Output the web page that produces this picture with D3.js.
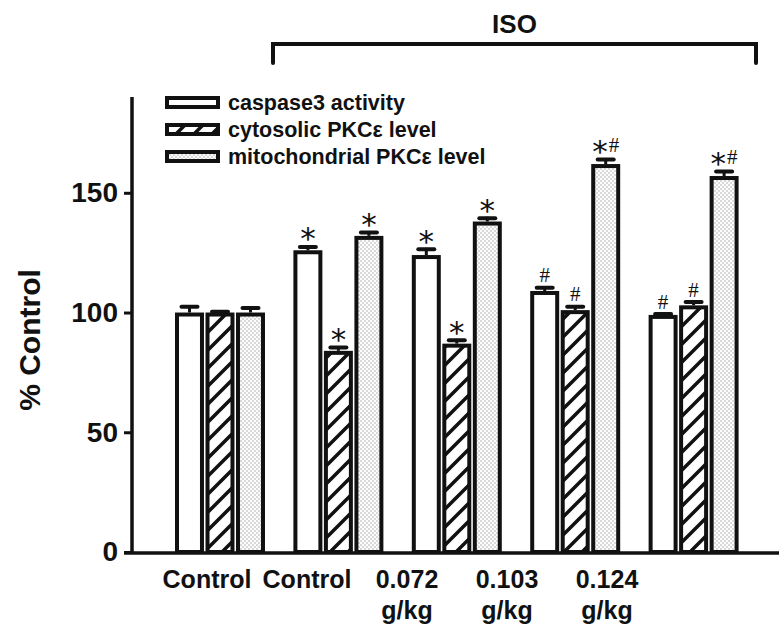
<!DOCTYPE html>
<html>
<head>
<meta charset="utf-8">
<script src="https://cdn.jsdelivr.net/npm/d3@7"></script>
<style>
	body { margin: 0; background: #fff; }
	text { font-family: 'Liberation Sans', Arial, sans-serif; fill: #111; }
</style>
</head>
<body>
<div id="chart"></div>
<script>
	'use strict';

	// data
	var groups = ['Control', 'ISO', '0.072', '0.103', '0.124'];
	var groupLabels = [['Control'], ['Control'], ['0.072', 'g/kg'], ['0.103', 'g/kg'], ['0.124', 'g/kg']];
	var seriesNames = ['caspase3 activity', 'cytosolic PKC\u03b5 level', 'mitochondrial PKC\u03b5 level'];
	var caspaseValues = [100, 126, 124, 109, 99];
	var caspaseErrors = [3, 2, 3, 2, 1];
	var cytosolicValues = [100, 84, 87, 101, 103];
	var cytosolicErrors = [1, 2, 2, 2, 2];
	var mitoValues = [100, 132, 138, 162, 157];
	var mitoErrors = [2.5, 2, 2, 2.5, 2.5];
	var caspaseMarks = ['', '*', '*', '#', '#'];
	var cytosolicMarks = ['', '*', '*', '#', '#'];
	var mitoMarks = ['', '*', '*', '*#', '*#'];
	var yTicks = [0, 50, 100, 150];
	var yMax = 190;

	var width = 779, height = 628;
	var svg = d3.select('#chart').append('svg')
		.attr('width', width)
		.attr('height', height);

	var defs = svg.append('defs');
	var hatch = defs.append('pattern')
		.attr('id', 'hatch')
		.attr('patternUnits', 'userSpaceOnUse')
		.attr('width', 18).attr('height', 18);
	hatch.append('rect').attr('width', 18).attr('height', 18).attr('fill', '#fff');
	hatch.append('path')
		.attr('d', 'M-2,20 L20,-2 M-6,6 L6,-6 M12,24 L24,12')
		.attr('stroke', '#111')
		.attr('stroke-width', 3.5);

	var dots = defs.append('pattern')
		.attr('id', 'dots')
		.attr('patternUnits', 'userSpaceOnUse')
		.attr('width', 4).attr('height', 4);
	dots.append('rect').attr('width', 4).attr('height', 4).attr('fill', '#fcfcfc');
	dots.append('circle').attr('cx', 1).attr('cy', 1).attr('r', 0.65).attr('fill', '#999');
	dots.append('circle').attr('cx', 3).attr('cy', 3).attr('r', 0.65).attr('fill', '#999');

	var fills = ['#fff', 'url(#hatch)', 'url(#dots)'];

	var series = seriesNames.map(function (name, i) {
		return {
			name: name,
			fill: fills[i],
			values: [caspaseValues, cytosolicValues, mitoValues][i],
			errors: [caspaseErrors, cytosolicErrors, mitoErrors][i],
			marks: [caspaseMarks, cytosolicMarks, mitoMarks][i]
		};
	});

	var x0 = d3.scaleBand()
		.domain(groups)
		.range([175, 738.6])
		.paddingInner(0.24)
		.paddingOuter(0);
	var x1 = d3.scaleBand()
		.domain(seriesNames)
		.range([0, x0.bandwidth()])
		.paddingInner(0.05);
	var y = d3.scaleLinear()
		.domain([0, yMax])
		.range([552, 97]);
	var xLabel = d3.scalePoint()
		.domain(groups)
		.range([207, 607]);

	// axes
	var yAxis = svg.append('g')
		.attr('transform', 'translate(132,0)')
		.call(d3.axisLeft(y).tickValues(yTicks).tickSize(8).tickPadding(6));
	yAxis.select('.domain').remove();
	yAxis.selectAll('.tick line').attr('stroke', '#111').attr('stroke-width', 3);
	yAxis.selectAll('.tick text')
		.style('font-size', '28px')
		.style('font-weight', 'bold')
		.attr('fill', '#111');

	svg.append('line')
		.attr('x1', 132).attr('x2', 132)
		.attr('y1', y(yMax)).attr('y2', y(0) + 1.5)
		.attr('stroke', '#111').attr('stroke-width', 3.5);

	// bars
	var bars = svg.append('g');
	series.forEach(function (s) {
		var g = bars.append('g');
		var bx = function (d, i) { return x0(groups[i]) + x1(s.name); };
		var bw = x1.bandwidth();

		g.selectAll('line.stem').data(s.values).enter().append('line')
			.attr('x1', function (d, i) { return bx(d, i) + bw / 2; })
			.attr('x2', function (d, i) { return bx(d, i) + bw / 2; })
			.attr('y1', function (d) { return y(d); })
			.attr('y2', function (d, i) { return y(d + s.errors[i]); })
			.attr('stroke', '#111').attr('stroke-width', 3);
		g.selectAll('line.cap').data(s.values).enter().append('line')
			.attr('x1', function (d, i) { return bx(d, i) + bw / 2 - 8; })
			.attr('x2', function (d, i) { return bx(d, i) + bw / 2 + 8; })
			.attr('y1', function (d, i) { return y(d + s.errors[i]) + 1.5; })
			.attr('y2', function (d, i) { return y(d + s.errors[i]) + 1.5; })
			.attr('stroke', '#111').attr('stroke-width', 4)
			.attr('stroke-linecap', 'round');

		g.selectAll('rect').data(s.values).enter().append('rect')
			.attr('x', function (d, i) { return bx(d, i) + 2; })
			.attr('y', function (d) { return y(d) + 2; })
			.attr('width', bw - 4)
			.attr('height', function (d) { return y(0) - y(d) - 2; })
			.attr('fill', s.fill)
			.attr('stroke', '#111')
			.attr('stroke-width', 4);

		// significance marks
		var marks = g.selectAll('text').data(s.values).enter().append('text')
			.attr('x', function (d, i) { return bx(d, i) + bw / 2; })
			.attr('y', function (d, i) { return y(d + s.errors[i]) - 3; })
			.attr('text-anchor', 'middle');
		marks.each(function (d, i) {
			var t = d3.select(this);
			var m = s.marks[i];
			if (m.indexOf('*') >= 0) {
				t.append('tspan')
					.style('font-family', 'DejaVu Sans')
					.style('font-size', '31px')
					.attr('dy', 7)
					.text('*');
			}
			if (m.indexOf('#') >= 0) {
				t.append('tspan')
					.style('font-family', 'Liberation Serif')
					.style('font-size', '21px')
					.attr('dx', m.length > 1 ? 1 : 0)
					.attr('dy', m.length > 1 ? -10 : -1)
					.text('#');
			}
		});
	});

	// x axis line
	svg.append('line')
		.attr('x1', 124).attr('x2', width)
		.attr('y1', y(0) + 1).attr('y2', y(0) + 1)
		.attr('stroke', '#111').attr('stroke-width', 3.5);

	// x labels
	var labels = svg.append('g');
	groups.forEach(function (gname, i) {
		var t = labels.append('text')
			.attr('x', xLabel(gname))
			.attr('y', 588)
			.attr('text-anchor', 'middle')
			.style('font-size', '25px')
			.style('font-weight', 'bold');
		groupLabels[i].forEach(function (line, j) {
			t.append('tspan')
				.attr('x', xLabel(gname))
				.attr('dy', j === 0 ? 0 : 31)
				.text(line);
		});
	});

	// y label
	svg.append('text')
		.attr('transform', 'translate(40,' + 340 + ') rotate(-90)')
		.attr('text-anchor', 'middle')
		.style('font-size', '30px')
		.style('font-weight', 'bold')
		.text('% Control');

	// ISO bracket
	var isoLeft = 273, isoRight = 756;
	svg.append('path')
		.attr('d', 'M' + isoLeft + ',63 V44 H' + isoRight + ' V63')
		.attr('fill', 'none')
		.attr('stroke', '#111')
		.attr('stroke-width', 4)
		.attr('stroke-linecap', 'round');
	svg.append('text')
		.attr('x', (isoLeft + isoRight) / 2)
		.attr('y', 33)
		.attr('text-anchor', 'middle')
		.style('font-size', '26px')
		.style('font-weight', 'bold')
		.text('ISO');

	// legend
	var legend = svg.append('g').attr('transform', 'translate(167,98)');
	var rows = legend.selectAll('g').data(series).enter().append('g')
		.attr('transform', function (d, i) { return 'translate(0,' + (i * 27) + ')'; });
	rows.append('rect')
		.attr('width', 51).attr('height', 9)
		.attr('fill', function (d) { return d.fill; })
		.attr('stroke', '#111').attr('stroke-width', 4);
	rows.append('text')
		.attr('x', 61).attr('y', 12)
		.style('font-size', '21.5px')
		.style('font-weight', 'bold')
		.text(function (d) { return d.name; });
</script>
</body>
</html>
